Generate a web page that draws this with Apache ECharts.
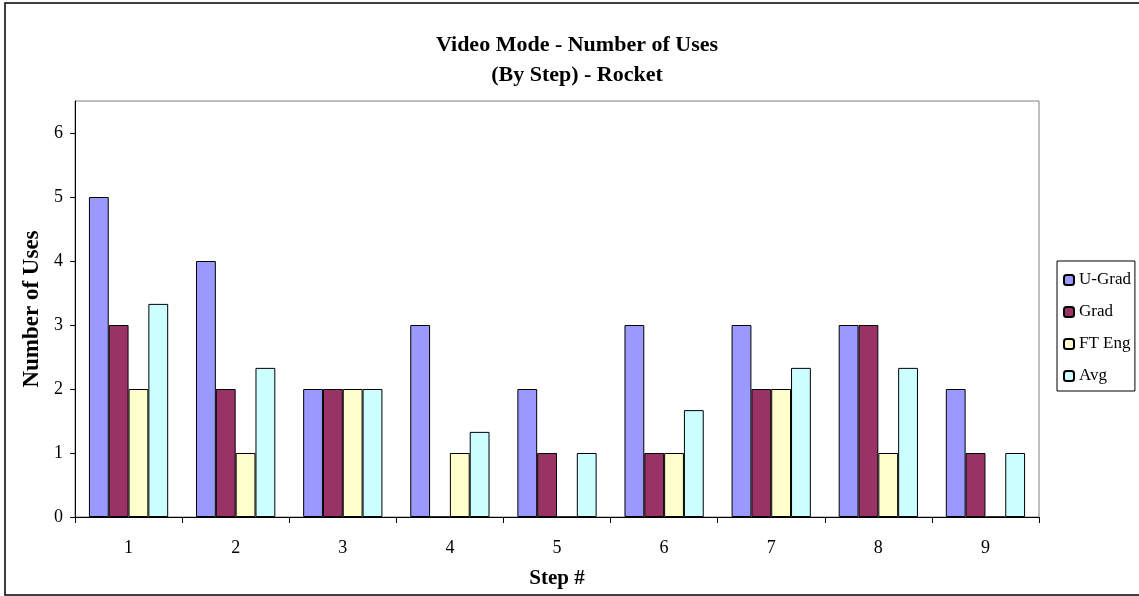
<!DOCTYPE html>
<html>
<head>
<meta charset="utf-8">
<script src="https://cdn.jsdelivr.net/npm/echarts@6/dist/echarts.min.js"></script>
<style>
  html, body { margin: 0; padding: 0; background: #fff; }
  #chart { width: 1139px; height: 596px; }
</style>
</head>
<body>
<div id="chart"></div>
<script>
// Step numbers along the x axis
const steps = ['1', '2', '3', '4', '5', '6', '7', '8', '9'];
// Number of video-mode uses per step for each group
const uGrad = [5, 4, 2, 3, 2, 3, 3, 3, 2];
const grad = [3, 2, 2, 0, 1, 1, 2, 3, 1];
const ftEng = [2, 1, 2, 1, 0, 1, 2, 1, 0];
const avg = [3.33, 2.33, 2, 1.33, 1, 1.67, 2.33, 2.33, 1];
// Tick labels on the value axis
const yTicks = [0, 1, 2, 3, 4, 5, 6];

const font = 'Liberation Serif, Times New Roman, serif';

function barSeries(name, data, color) {
  return {
    name: name,
    type: 'bar',
    data: data,
    barGap: '0%',
    barCategoryGap: '26%',
    itemStyle: { color: color, borderColor: '#000', borderWidth: 1 }
  };
}

const chart = echarts.init(document.getElementById('chart'), null, { renderer: 'canvas' });
chart.setOption({
  animation: false,
  backgroundColor: '#fff',
  textStyle: { fontFamily: font },
  graphic: [{
    type: 'rect',
    shape: { x: 5, y: 3, width: 1140, height: 592 },
    style: { fill: 'none', stroke: '#000', lineWidth: 1.5 },
    silent: true
  }],
  title: {
    text: 'Video Mode - Number of Uses\n(By Step) - Rocket',
    left: 572,
    top: 25,
    textAlign: 'center',
    textStyle: { fontFamily: font, fontSize: 22, fontWeight: 'bold', color: '#000', lineHeight: 30 }
  },
  legend: {
    orient: 'vertical',
    left: 1057,
    top: 261,
    width: 80,
    padding: [9, 4, 5, 6],
    itemGap: 12,
    itemWidth: 10,
    itemHeight: 10,
    borderColor: '#000',
    borderWidth: 1,
    textStyle: { fontFamily: font, fontSize: 17, color: '#000', padding: [0, 0, 0, 0], lineHeight: 20 },
    data: ['U-Grad', 'Grad', 'FT Eng', 'Avg']
  },
  grid: {
    left: 75, top: 101, right: 100, bottom: 79,
    outerBoundsMode: 'none',
    containLabel: false,
    show: true, borderColor: '#808080', borderWidth: 1
  },
  xAxis: {
    type: 'category',
    data: steps,
    name: 'Step #',
    nameLocation: 'middle',
    nameGap: 51,
    nameMoveOverlap: false,
    nameTextStyle: { fontFamily: font, fontSize: 21, fontWeight: 'bold', color: '#000' },
    axisLine: { lineStyle: { color: '#000', width: 1 } },
    axisTick: { show: true, length: 6, lineStyle: { color: '#000' } },
    axisLabel: { fontFamily: font, fontSize: 18, color: '#000', margin: 22 }
  },
  yAxis: {
    type: 'value',
    min: 0,
    max: 6.5,
    interval: 1,
    name: 'Number of Uses',
    nameLocation: 'middle',
    nameGap: 31,
    nameMoveOverlap: false,
    nameTextStyle: { fontFamily: font, fontSize: 23, fontWeight: 'bold', color: '#000' },
    splitLine: { show: false },
    axisLine: { show: true, lineStyle: { color: '#000', width: 1 } },
    axisTick: { show: true, length: 5, customValues: yTicks, lineStyle: { color: '#000' } },
    axisLabel: { fontFamily: font, fontSize: 18, color: '#000', margin: 12, customValues: yTicks }
  },
  series: [
    barSeries('U-Grad', uGrad, '#9999FF'),
    barSeries('Grad', grad, '#993366'),
    barSeries('FT Eng', ftEng, '#FFFFCC'),
    barSeries('Avg', avg, '#CCFFFF')
  ]
});
</script>
</body>
</html>
